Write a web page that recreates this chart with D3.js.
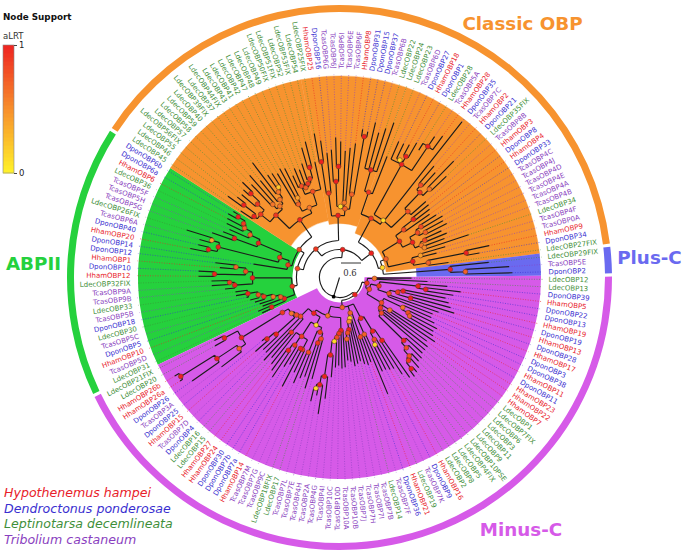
<!DOCTYPE html>
<html>
<head>
<meta charset="utf-8">
<script src="https://cdn.jsdelivr.net/npm/d3@7"></script>
<style>
  html, body { margin: 0; background: #fff; }
  text { font-family: "DejaVu Sans", sans-serif; }
</style>
</head>
<body>
<script>
const w = 685
const h = 556

// clockwise from the green/purple border
const leafNames = [
  'LdecOBP31','TcasOBP5D','HhamOBP10','DponOBP5','TcasOBP5C','LdecOBP30','DponOBP18','TcasOBP5B','LdecOBP33','TcasOBP9B',
  'TcasOBP9A','LdecOBP32FIX','HhamOBP12','DponOBP10','HhamOBP1','DponOBP12','DponOBP14','HhamOBP20','DponOBP40','TcasOBP6A',
  'LdecOBP26FIX','TcasOBP5G','TcasOBP5H','TcasOBP5F','LdecOBP36','HhamOBP6','DponOBP6a','DponOBP6b',
  'LdecOBP45','LdecOBP46','LdecOBP55','LdecOBP56FIX','LdecOBP57','LdecOBP58','LdecOBP59','LdecOBP40','LdecOBP39FIX','LdecOBP37',
  'LdecOBP44FIX','LdecOBP43','LdecOBP41','LdecOBP42','LdecOBP47','LdecOBP48','LdecOBP49','LdecOBP50FIX','LdecOBP51FIX','LdecOBP52',
  'LdecOBP53FIX','LdecOBP54','LdecOBP25FIX','HhamOBP25','DponOBP16','TcasOBP6G','TcasOBP6J','TcasOBP6I','TcasOBP6E','TcasOBP6F',
  'HhamOBP8','DponOBP31','DponOBP15','DponOBP37','TcasOBP6B','LdecOBP22','LdecOBP24','LdecOBP23','TcasOBP6D','DponOBP27',
  'HhamOBP18','DponOBP1','LdecOBP28','TcasOBP5A','HhamOBP28','DponOBP35','TcasOBP7C','HhamOBP2','DponOBP21','LdecOBP35FIX',
  'TcasOBP8B','HhamOBP3','DponOBP8','HhamOBP4','DponOBP33','TcasOBP4C','TcasOBP4J','TcasOBP4D','TcasOBP4E','TcasOBP4A',
  'TcasOBP4B','LdecOBP34','TcasOBP4F','TcasOBP0A','HhamOBP9','DponOBP34','LdecOBP27FIX',
  'LdecOBP29FIX','TcasOBP5E','DponOBP2',
  'LdecOBP12','LdecOBP13','DponOBP39','HhamOBP5','DponOBP22','DponOBP13','HhamOBP19','DponOBP19','HhamOBP13','DponOBP28',
  'HhamOBP17','DponOBP3','DponOBP38','HhamOBP11','DponOBP11','HhamOBP23','HhamOBP22','HhamOBP7','LdecOBP1','LdecOBP7FIX',
  'LdecOBP6','LdecOBP3','LdecOBP11','LdecOBP9','LdecOBP10PSE','LdecOBP4FIX','LdecOBP5','LdecOBP8','LdecOBP2','HhamOBP16',
  'DponOBP9','TcasOBP7K','LdecOBP19','HhamOBP21','DponOBP36','TcasOBP7F','LdecOBP14','TcasOBP7B','TcasOBP7I','TcasOBP7H',
  'TcasOBP7J','TcasOBP10B','TcasOBP10A','TcasOBP10D','TcasOBP10C','TcasOBP4I','TcasOBP4G','TcasOBP2A','TcasOBP4H','TcasOBP7E',
  'TcasOBP7L','LdecOBP17','LdecOBP18FIX','TcasOBP9C','TcasOBP7G','TcasOBP7M','HhamOBP14','DponOBP7a','DponOBP7b','DponOBP30',
  'HhamOBP24','HhamOBP27','LdecOBP15','LdecOBP16','DponOBP4','TcasOBP7D','HhamOBP15','DponOBP25','TcasOBP3A','DponOBP26',
  'HhamOBP26a','HhamOBP26b','LdecOBP20','LdecOBP21FIX'
]

const groupNames = ['ABPII', 'Classic OBP', 'Plus-C', 'Minus-C']
const groupSizes = [28, 67, 3, 74]

const speciesPrefix = ['Hham', 'Dpon', 'Ldec', 'Tcas']
const speciesNames = ['Hypothenemus hampei', 'Dendroctonus ponderosae', 'Leptinotarsa decemlineata', 'Tribolium castaneum']

const supportTicks = [0, 1]
const scaleBarLength = 60 // hundredths, printed as 0.6
const rootBearing = 197

// depth from the centre in hundredths of a substitution: [depth, aLRT, ...children], a bare number is a tip
const lowerLadder = [177,1, [222,1, 255, 264], [186,.7, 246, [207,.6, 252, [234,.9, 264, [249,.8, 276, [279,1, 285, 315, 315]]]]]]
const lowerComb = [261,1, [315,1, 345, [330,.9, 384, 384]], [282,.8, [375,1, 423, 423], [312,.7, 360, 375]]]
const upperGreen = [264,1, [336,1, 405, 375], [297,.7, 360, [321,.7, 375, [330,.9, 380, [354,1, 385, 375]]]]]
const midGreen = [189,.9, [375,1, [402,1, 456, 435], [399,.4, 435, 480]], upperGreen]
const orangeA = [267,.9, [303,.9, [315,1, 357, [360,1, 414, 390]], [330,.9, 384, [366,1, 390, 408]]], [279,.6, [297,.6, 384, 408], [294,.6, 375, [315,.6, 432, [327,.2, 375, 372]]]]]
const orangeB = [228,.6, [252,.7, 363, [270,.4, 372, 366]], [270,.8, [297,.8, 336, [288,.7, 354, [297,.9, 345, [309,.9, 360, [342,1, 405, 420]]]]], 354]]
const orangeMid = [186,1, [255,.9, [351,1, 438, 414], 375], [207,.7, [213,.1, [288,1, 384, [333,1, 420, 408]], [225,.6, 380, 390]], [252,.7, 405, [429,1, 450, 445]]]]
const orangeRight = [201,.9,
  [270,.9, [336,1, 477, 450, 468, 492], 390],
  [216,.1, [387,1, 445, [396,.1, 445, [414,1, 450, 465]], [474,1, 450, 510, 525]], 594, [285,.8, [351,.9, [369,.8, 438, 426], [378,.6, 489, 441]], 345]]
]
const orangeTail = [150,.7,
  [210,1, [240,.8, [282,1, 345, 339], 330],
    [243,1, [270,.8, [288,.8, 345, 360], [291,.7, 354, 360]], [264,.6, [279,.8, 336, 348], [270,.5, 336, 408]]]],
  [225,1, [252,.4, 330, 300], [270,.7, [387,1, 459, 426], 330]]
]
const blueClade = [333,1, 450, [378,.7, 510, 519]]
const pinkChain = [270,1, 336, [291,.8, 345, [315,.8, 345, [324,.9, 360, [348,1, 366, 372]]]]]
const pinkTop = [84,.9,
  [105,.6, 216, 264],
  [96,.8,
    [121,.9, [237,1, 324, [261,1, 366, 345]], [156,.8, [180,.9, [195,1, 324, 336], [222,1, 345, 360]], 315, 300]],
    [147,.8, [210,.6, 300, [231,.8, 315, [240,.7, 330, 324]]], [153,.9, [180,.6, 330, 345], [165,.8, 324, 336, 336, pinkChain]]]
  ]
]
const pinkLeft = [138,1, [189,1, [228,1, 366, 345], [213,.8, 318, [228,.1, 315, 309]]], [186,.7, 309, 378]]
const pinkMid = [111,.7, [189,.8, 270, 276], [126,.1, 270, [135,.5, 258, [159,1, 264, [168,.8, 270, [186,.7, 255, 250]]]]]]
const pinkDeep = [159,1, 270, [168,.9, 273, [180,.8, 264, [192,.1, 270, [234,1, 300, [300,1, 366, [327,1, 414, [340,.1, 360, 381]]]]]]]]
const pinkLow = [159,.1, [174,.9, [192,.8, 315, [207,.9, 348, 315]], [243,.8, 324, 345]], [210,.9, [243,.9, 315, [243,1, 369, 300]], [243,.9, 315, [267,1, 360, 345]], 330]]
const pinkFar = [345,1, [369,.7, 444, [441,1, 540, [561,1, 570, 576]]], [390,1, 426, 420]]
const pinkEnd = [165,.8, [219,.9, 315, 336], [171,.8, 315, [180,.6, [255,1, 315, [285,1, 336, 300]], [201,.9, pinkFar]]]]

const tree = [60,1,
  [84,1,
    [111,.9,
      [129,.8,
        [144,.9, lowerLadder, lowerComb],
        [147,.8, [159,.9, 261, midGreen], [210,1, orangeA, orangeB]]
      ],
      orangeMid
    ],
    [120,1, orangeRight, [132,.1, orangeTail, blueClade]]
  ],
  [69,1, pinkTop, [90,.7, pinkLeft, pinkMid, [120,.6, pinkDeep, [132,1, pinkLow, pinkEnd]]]]
]

// --- layout
const cx = 339.5
const cy = 277.5
const N = leafNames.length
const deg = Math.PI / 180
const angle = d3.scaleLinear().domain([0, N]).range([245.4 * deg, 605.4 * deg])
const radius = d3.scaleLinear().domain([0, 600]).range([0, 200])

const groupColor = d3.scaleOrdinal().domain(groupNames).range(['#25d13d', '#f7932f', '#6a6af0', '#d65ae8'])
const speciesColor = d3.scaleOrdinal().domain(speciesPrefix).range(['#e8212a', '#3a2fd0', '#3f8f3a', '#8a3fc0'])
const supportColor = d3.scaleLinear().domain([0, .5, 1]).range(['#fff02a', '#f78c2c', '#ee2020'])

const svg = d3.select('body').append('svg').attr('width', w).attr('height', h)
const chart = svg.append('g').attr('transform', 'translate(' + cx + ',' + cy + ')')

// group spans in leaf positions
let start = 0
const groups = groupNames.map((name, i) => {
  const g = { name: name, from: start, to: start + groupSizes[i] }
  start = g.to
  return g
})

// coloured sectors, the classic OBP one steps in three times
const classic = groups[1]
const sectors = [
  { name: 'ABPII', from: groups[0].from - .5, to: groups[0].to - .5, inner: 47 },
  { name: 'Classic OBP', from: classic.from - .5, to: classic.from + 21.5, inner: 58 },
  { name: 'Classic OBP', from: classic.from + 21.5, to: classic.from + 36, inner: 54 },
  { name: 'Classic OBP', from: classic.from + 36, to: classic.to - .5, inner: 47 },
  { name: 'Plus-C', from: groups[2].from - .5, to: groups[2].to - .5, inner: 77 },
  { name: 'Minus-C', from: groups[3].from - .5, to: groups[3].to - .5, inner: 25 }
]
const sectorArc = d3.arc().outerRadius(201.5)
chart.selectAll('.sector').data(sectors).enter().append('path')
  .attr('class', 'sector')
  .attr('d', (d) => sectorArc({ innerRadius: d.inner, startAngle: angle(d.from), endAngle: angle(d.to) }))
  .attr('fill', (d) => groupColor(d.name))
  .attr('stroke', (d) => d.name === 'Classic OBP' ? groupColor(d.name) : 'none')
  .attr('stroke-width', .4)

// outer ring
const ringArc = d3.arc().innerRadius(265.5).outerRadius(272.5)
chart.selectAll('.ring').data(groups).enter().append('path')
  .attr('class', 'ring')
  .attr('d', (d) => ringArc({ startAngle: angle(d.from - .5) + .006, endAngle: angle(d.to - .5) - .006 }))
  .attr('fill', (d) => groupColor(d.name))

// tree
const root = d3.hierarchy(tree, (d) => Array.isArray(d) ? d.slice(2) : null)
root.each((d) => {
  d.depthValue = Array.isArray(d.data) ? d.data[0] : d.data
  d.support = Array.isArray(d.data) ? d.data[1] : null
})
root.leaves().forEach((d, i) => { d.x = i })
root.eachAfter((d) => {
  if (d.children) d.x = (d.children[0].x + d.children[d.children.length - 1].x) / 2
})

const [topChild, pinkChild] = root.children
const polar = (x, value) => d3.pointRadial(angle(x), radius(value))

const treePath = d3.path()
root.descendants().forEach((d) => {
  if (d.parent && d.parent !== root) {
    const a = polar(d.x, d.parent.depthValue)
    const b = polar(d.x, d.depthValue)
    treePath.moveTo(a[0], a[1])
    treePath.lineTo(b[0], b[1])
  }
  if (d.children && d !== root) {
    const first = angle(d.children[0].x) - Math.PI / 2
    const last = angle(d.children[d.children.length - 1].x) - Math.PI / 2
    const r = radius(d.depthValue)
    treePath.moveTo(r * Math.cos(first), r * Math.sin(first))
    treePath.arc(0, 0, r, first, last)
  }
})
// the root arc runs the long way round, through the left side
root.children.forEach((d) => {
  const a = polar(d.x, root.depthValue)
  const b = polar(d.x, d.depthValue)
  treePath.moveTo(a[0], a[1])
  treePath.lineTo(b[0], b[1])
})
const rootArcFrom = angle(pinkChild.x - N) - Math.PI / 2
const rootArcTo = angle(topChild.x) - Math.PI / 2
treePath.moveTo(radius(root.depthValue) * Math.cos(rootArcFrom), radius(root.depthValue) * Math.sin(rootArcFrom))
treePath.arc(0, 0, radius(root.depthValue), rootArcFrom, rootArcTo)
const rootPoint = d3.pointRadial(rootBearing * deg, radius(root.depthValue))
treePath.moveTo(rootPoint[0], rootPoint[1])
treePath.lineTo(0, 0)

// tips run on as dotted lines in the species colour
chart.selectAll('.tip').data(root.leaves()).enter().append('line')
  .attr('class', 'tip')
  .attr('x1', (d) => polar(d.x, d.depthValue)[0])
  .attr('y1', (d) => polar(d.x, d.depthValue)[1])
  .attr('x2', (d) => d3.pointRadial(angle(d.x), 203)[0])
  .attr('y2', (d) => d3.pointRadial(angle(d.x), 203)[1])
  .attr('stroke', (d) => speciesColor(leafNames[d.x].slice(0, 4)))
  .attr('stroke-width', .8)
  .attr('stroke-dasharray', '1,1.5')
  .attr('opacity', .75)

chart.append('path').attr('d', treePath.toString())
  .attr('fill', 'none').attr('stroke', '#1c1c1c').attr('stroke-width', 1.15)

const inner = root.descendants().filter((d) => d.children && d !== root)
chart.selectAll('.node').data(inner).enter().append('circle')
  .attr('class', 'node')
  .attr('cx', (d) => polar(d.x, d.depthValue)[0])
  .attr('cy', (d) => polar(d.x, d.depthValue)[1])
  .attr('r', 2.4)
  .attr('fill', (d) => supportColor(d.support))
  .attr('stroke', '#6b3a22')
  .attr('stroke-width', .6)

chart.append('circle').attr('cx', rootPoint[0]).attr('cy', rootPoint[1]).attr('r', 1.9).attr('fill', '#000')

// tip labels, flipped on the left half
chart.selectAll('.leaf').data(leafNames).enter().append('text')
  .attr('class', 'leaf')
  .attr('transform', (d, i) => {
    const a = angle(i) / deg - 90
    const flip = Math.sin(angle(i)) < 0
    return 'rotate(' + a + ') translate(209,0)' + (flip ? ' rotate(180)' : '')
  })
  .attr('text-anchor', (d, i) => Math.sin(angle(i)) < 0 ? 'end' : 'start')
  .attr('dy', '.35em')
  .attr('font-size', 7)
  .attr('fill', (d) => speciesColor(d.slice(0, 4)))
  .text((d) => d)

// scale bar
const barY = 263
svg.append('line').attr('x1', 341).attr('x2', 341 + radius(scaleBarLength))
  .attr('y1', barY).attr('y2', barY).attr('stroke', '#333').attr('stroke-width', 1)
svg.append('text').attr('x', 350).attr('y', 276).attr('text-anchor', 'middle')
  .style('font-family', '"DejaVu Serif", serif').attr('font-size', 8.5).attr('fill', '#333')
  .text(scaleBarLength / 100)

// group titles
const titles = [[522.5, 30], [649.5, 264], [33.5, 270], [521, 536]]
const titleOrder = ['Classic OBP', 'Plus-C', 'ABPII', 'Minus-C']
svg.selectAll('.title').data(titleOrder).enter().append('text')
  .attr('class', 'title')
  .attr('x', (d, i) => titles[i][0])
  .attr('y', (d, i) => titles[i][1])
  .attr('text-anchor', 'middle')
  .attr('font-size', 18.3)
  .attr('font-weight', 'bold')
  .attr('fill', (d) => groupColor(d))
  .text((d) => d)

// species legend
svg.selectAll('.species').data(speciesNames).enter().append('text')
  .attr('class', 'species')
  .attr('x', 4)
  .attr('y', (d, i) => 497 + i * 15.5)
  .attr('font-size', 12.6)
  .attr('font-style', 'italic')
  .attr('fill', (d, i) => speciesColor(speciesPrefix[i]))
  .text((d) => d)

// support legend
svg.append('text').attr('x', 3).attr('y', 20).attr('font-size', 8.8).attr('font-weight', 'bold').attr('fill', '#111').text('Node Support')
svg.append('text').attr('x', 3).attr('y', 39).attr('font-size', 8.5).attr('fill', '#333').text('aLRT')

const supportY = d3.scaleLinear().domain(supportTicks).range([173, 45])
const steps = d3.range(0, 1, 1 / 32)
svg.selectAll('.step').data(steps).enter().append('rect')
  .attr('class', 'step')
  .attr('x', 3)
  .attr('width', 11)
  .attr('y', (d) => supportY(d + 1 / 32))
  .attr('height', 4.5)
  .attr('fill', (d) => supportColor(d))
svg.append('rect').attr('x', 3).attr('y', 45).attr('width', 11).attr('height', 128)
  .attr('fill', 'none').attr('stroke', '#888').attr('stroke-width', .6)

const supportAxis = d3.axisRight(supportY).tickValues(supportTicks).tickSize(3).tickPadding(2).tickFormat(d3.format('d'))
const axisG = svg.append('g').attr('transform', 'translate(14,0)').call(supportAxis)
axisG.select('.domain').remove()
axisG.selectAll('text').attr('font-size', 8.5).attr('fill', '#222').style('font-family', '"DejaVu Sans", sans-serif')
axisG.selectAll('line').attr('stroke', '#444')
</script>
</body>
</html>
